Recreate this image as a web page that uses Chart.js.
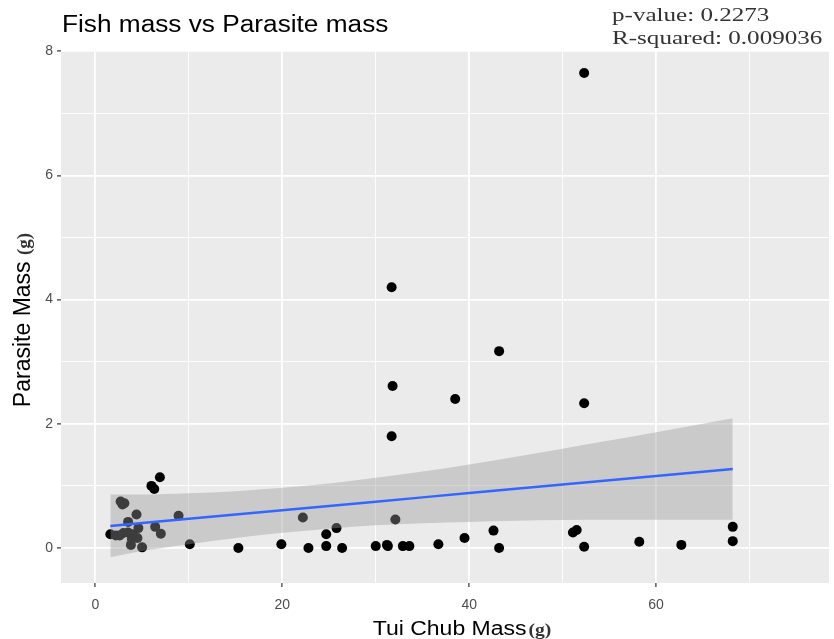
<!DOCTYPE html>
<html>
<head>
<meta charset="utf-8">
<script src="https://cdn.jsdelivr.net/npm/chart.js@4"></script>
<style>
  body { margin: 0; background: #fff; }
  canvas { display: block; }
</style>
</head>
<body>
<canvas id="c" width="834" height="639"></canvas>
<script>
// fish mass (g) and parasite mass (g)
const fishMass = [
  1.6, 2.2, 2.6, 3.0, 3.5, 4.0, 2.7, 3.1, 2.9, 3.5, 4.4, 4.6, 4.5, 3.9, 3.8, 5.0,
  6.4, 7.0, 6.0, 6.3, 6.9, 8.9, 10.1,
  15.3, 19.9, 22.2, 22.8, 24.7, 25.8, 24.7, 26.4, 30.0, 31.2, 31.3, 32.1, 32.9, 33.6,
  31.7, 31.8, 31.7, 36.7, 38.5, 39.5, 42.6, 43.2, 43.2, 51.1, 51.5, 52.3, 52.3, 52.3,
  58.2, 62.7, 68.2, 68.2
]
const parasiteMass = [
  0.22, 0.20, 0.20, 0.24, 0.25, 0.22, 0.75, 0.72, 0.70, 0.42, 0.54, 0.32, 0.16, 0.15, 0.05, 0.01,
  0.34, 0.23, 1.00, 0.95, 1.14, 0.52, 0.06,
  0.00, 0.06, 0.49, 0.00, 0.22, 0.32, 0.03, 0.00, 0.03, 0.05, 0.03, 0.46, 0.03, 0.03,
  1.80, 2.61, 4.20, 0.06, 2.40, 0.16, 0.28, 0.00, 3.17, 0.25, 0.29, 0.02, 2.33, 7.65,
  0.10, 0.05, 0.34, 0.11
]

// lm smoother: fitted line and 95% band
const smoothX = [1.6, 5, 10, 15, 20, 25, 30, 35, 40, 45, 50, 55, 60, 65, 68.2]
const fitY = [0.354, 0.401, 0.47, 0.539, 0.608, 0.677, 0.746, 0.815, 0.884, 0.953, 1.022, 1.091, 1.16, 1.229, 1.273]
const upperY = [0.86, 0.86, 0.88, 0.915, 0.97, 1.04, 1.13, 1.23, 1.345, 1.47, 1.60, 1.73, 1.865, 2.0, 2.09]
const lowerY = [-0.15, -0.05, 0.06, 0.16, 0.245, 0.31, 0.365, 0.40, 0.42, 0.44, 0.45, 0.455, 0.455, 0.455, 0.455]

const xTicks = [0, 20, 40, 60]
const yTicks = [0, 2, 4, 6, 8]

const titleText = 'Fish mass vs Parasite mass'
const statLines = ['p-value: 0.2273', 'R-squared: 0.009036']

const pairs = (xs, ys) => xs.map((x, i) => ({ x, y: ys[i] }))

// text drawn a little wider than the font, like the stretched reference
function wideText(ctx, text, x, y, sx) {
  ctx.save()
  ctx.translate(x, y)
  ctx.scale(sx, 1)
  ctx.fillText(text, 0, 0)
  ctx.restore()
  return ctx.measureText(text).width * sx
}

const panel = {
  id: 'panel',
  beforeDraw(chart) {
    const { ctx, chartArea: a } = chart
    ctx.save()
    ctx.fillStyle = '#ebebeb'
    ctx.fillRect(a.left, a.top, a.right - a.left, a.bottom - a.top)
    ctx.restore()
  },
  afterDraw(chart) {
    const { ctx, chartArea: a } = chart
    ctx.save()
    ctx.textBaseline = 'alphabetic'

    ctx.fillStyle = '#000'
    ctx.font = '23px "Liberation Sans", Arial, sans-serif'
    wideText(ctx, titleText, 62, 32, 1.14)

    ctx.fillStyle = '#333'
    ctx.font = '19px "Liberation Serif", "Times New Roman", serif'
    wideText(ctx, statLines[0], 612, 21, 1.32)
    wideText(ctx, statLines[1], 612, 44, 1.32)

    // x axis title
    const sans = '20px "Liberation Sans", Arial, sans-serif'
    const serif = 'bold 17px "Liberation Serif", serif'
    ctx.font = sans
    const xw = ctx.measureText('Tui Chub Mass').width * 1.15
    ctx.font = serif
    const gw = ctx.measureText('(g)').width * 1.15
    let sx = 462 - (xw + gw + 2) / 2
    ctx.fillStyle = '#000'
    ctx.font = sans
    wideText(ctx, 'Tui Chub Mass', sx, 635, 1.15)
    ctx.fillStyle = '#333'
    ctx.font = serif
    wideText(ctx, '(g)', sx + xw + 2, 635, 1.15)

    // y axis title
    ctx.translate(30, 320)
    ctx.rotate(-Math.PI / 2)
    ctx.fillStyle = '#000'
    ctx.font = '23px "Liberation Sans", Arial, sans-serif'
    const ya = 'Parasite Mass '
    const yw = ctx.measureText(ya).width
    ctx.font = 'bold 19px "Liberation Serif", serif'
    const gw2 = ctx.measureText('(g)').width
    sx = -(yw + gw2) / 2
    ctx.font = '23px "Liberation Sans", Arial, sans-serif'
    ctx.fillText(ya, sx, 0)
    ctx.fillStyle = '#333'
    ctx.font = 'bold 19px "Liberation Serif", serif'
    ctx.fillText('(g)', sx + yw, 0)
    ctx.restore()
  }
}

const tickCol = list => ctx => (ctx.tick && list.includes(ctx.tick.value)) ? '#333' : 'rgba(0,0,0,0)'

new Chart(document.getElementById('c'), {
  type: 'scatter',
  data: {
    datasets: [
      {
        label: 'fit',
        data: pairs(smoothX, fitY),
        showLine: true,
        borderColor: '#3366ff',
        borderWidth: 2.5,
        pointRadius: 0,
        order: 0
      },
      {
        label: 'upper',
        data: pairs(smoothX, upperY),
        showLine: true,
        cubicInterpolationMode: 'monotone',
        borderWidth: 0,
        borderColor: 'rgba(0,0,0,0)',
        backgroundColor: 'rgba(153,153,153,0.4)',
        fill: '+1',
        pointRadius: 0,
        order: 1
      },
      {
        label: 'lower',
        data: pairs(smoothX, lowerY),
        showLine: true,
        cubicInterpolationMode: 'monotone',
        borderWidth: 0,
        borderColor: 'rgba(0,0,0,0)',
        pointRadius: 0,
        order: 2
      },
      {
        label: 'fish',
        data: pairs(fishMass, parasiteMass),
        backgroundColor: '#000',
        borderWidth: 0,
        pointRadius: 5,
        order: 3
      }
    ]
  },
  options: {
    responsive: false,
    animation: false,
    layout: { padding: { top: 50, right: 2, left: 0, bottom: 0 } },
    plugins: {
      legend: { display: false },
      tooltip: { enabled: false }
    },
    scales: {
      x: {
        type: 'linear',
        min: -3.68,
        max: 78.5,
        afterFit(s) { s.height = 56 },
        border: { display: false },
        grid: {
          color: '#fff',
          lineWidth: ctx => (ctx.tick && ctx.tick.value % 20 === 0) ? 1.8 : 0.9,
          tickColor: tickCol(xTicks),
          tickLength: 4,
          tickWidth: 1.2
        },
        ticks: {
          stepSize: 10,
          includeBounds: false,
          maxRotation: 0,
          autoSkip: false,
          padding: 10,
          color: '#4d4d4d',
          font: { family: '"Liberation Sans", Arial, sans-serif', size: 14 },
          callback: v => xTicks.includes(v) ? String(v) : ''
        }
      },
      y: {
        type: 'linear',
        min: -0.564,
        max: 8.02,
        afterFit(s) { s.width = 61 },
        border: { display: false },
        grid: {
          color: '#fff',
          lineWidth: ctx => (ctx.tick && ctx.tick.value % 2 === 0) ? 1.8 : 0.9,
          tickColor: tickCol(yTicks),
          tickLength: 4,
          tickWidth: 1.2
        },
        ticks: {
          stepSize: 1,
          includeBounds: false,
          autoSkip: false,
          padding: 4,
          color: '#4d4d4d',
          font: { family: '"Liberation Sans", Arial, sans-serif', size: 14 },
          callback: v => yTicks.includes(v) ? String(v) : ''
        }
      }
    }
  },
  plugins: [panel]
})
</script>
</body>
</html>
